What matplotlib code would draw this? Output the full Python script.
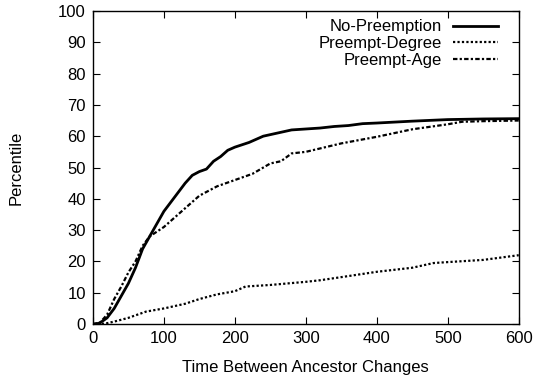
import matplotlib
matplotlib.use("Agg")
import matplotlib.pyplot as plt

plt.rcParams['font.family'] = ['Liberation Sans', 'DejaVu Sans']

# values
x_nopre = [0, 5, 10, 20, 30, 40, 50, 60, 70, 80, 90, 100, 110, 120, 130, 140, 150, 160,
           170, 180, 190, 200, 220, 240, 260, 280, 300, 320, 340, 360, 380, 400, 450,
           500, 550, 600]
y_nopre = [0, 0.1, 0.4, 2, 5, 9, 13, 18, 24, 28, 32, 36, 39, 42, 45, 47.5, 48.7, 49.5,
           52, 53.5, 55.5, 56.5, 58, 60, 61, 62, 62.3, 62.6, 63.1, 63.4, 64, 64.2, 64.8,
           65.3, 65.5, 65.6]

x_degree = [0, 10, 20, 30, 50, 75, 100, 130, 150, 175, 200, 215, 250, 300, 320, 350, 400,
            450, 480, 500, 550, 600]
y_degree = [0, 0, 0.3, 0.8, 2, 4, 5, 6.5, 8, 9.5, 10.5, 12, 12.5, 13.5, 14, 15, 16.7,
            18, 19.5, 19.8, 20.5, 22]

x_age = [0, 10, 20, 30, 40, 50, 60, 70, 80, 90, 100, 120, 150, 175, 200, 225, 250, 265,
         280, 300, 350, 400, 450, 500, 520, 550, 600]
y_age = [0, 0.5, 3, 8, 12, 16.5, 20, 25, 28, 29.5, 31, 35, 41, 44, 46, 48, 51.3, 52,
         54.5, 55, 57.7, 59.8, 62.2, 63.8, 64.6, 64.8, 65]

fs = 12

fig = plt.figure(figsize=(5.37, 3.76), dpi=100)
ax = fig.add_axes([0.173, 0.138, 0.793, 0.833])

ax.plot(x_nopre, y_nopre, color='black', lw=2.0, label='No-Preemption')
ax.plot(x_degree, y_degree, color='black', lw=1.6, linestyle=(0, (1, 1)), label='Preempt-Degree')
ax.plot(x_age, y_age, color='black', lw=1.6, linestyle=(0, (2, 1, 1, 1)), label='Preempt-Age')

ax.set_xlim(0, 600)
ax.set_ylim(0, 100)
ax.set_xticks(range(0, 601, 100))
ax.set_yticks(range(0, 101, 10))
ax.tick_params(direction='in', top=True, right=True, length=5, labelsize=fs, pad=5)
for s in ax.spines.values():
    s.set_linewidth(1.0)

ax.set_xlabel('Time Between Ancestor Changes', fontsize=fs, labelpad=10)
ax.set_ylabel('Percentile', fontsize=fs, labelpad=25)

ax.legend(loc='upper right', bbox_to_anchor=(0.975, 1.005), frameon=False, fontsize=fs,
          markerfirst=False, handlelength=2.7, handletextpad=0.65, labelspacing=0.1,
          borderaxespad=0.2)

fig.savefig('out.png', dpi=100)
